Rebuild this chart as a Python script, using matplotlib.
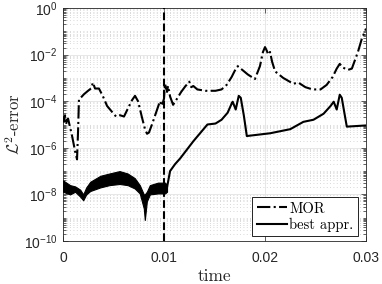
import matplotlib

matplotlib.use("Agg")
import matplotlib.pyplot as plt
import numpy as np
from matplotlib.ticker import LogLocator, FixedLocator, NullFormatter

plt.rcParams["font.family"] = ["Liberation Sans", "DejaVu Sans"]
plt.rcParams["mathtext.fontset"] = "custom"
plt.rcParams["mathtext.rm"] = "Liberation Sans"
plt.rcParams["mathtext.it"] = "Liberation Sans:italic"
plt.rcParams["mathtext.bf"] = "Liberation Sans:bold"

# MOR error (dash-dot)
mor_t = [0.0, 0.0001, 0.0002, 0.0003, 0.0004, 0.0005, 0.0009, 0.0012, 0.00139,
         0.00149, 0.00158, 0.00168, 0.00208, 0.00248, 0.00277, 0.00297, 0.00317,
         0.00356, 0.00396, 0.00436, 0.00485, 0.00525, 0.00564, 0.00604, 0.00644,
         0.00683, 0.00713, 0.00743, 0.00782, 0.00812, 0.00832, 0.00851, 0.00881,
         0.00921, 0.0096, 0.0098, 0.0100, 0.0101, 0.0103, 0.0104, 0.0106, 0.0109,
         0.0113, 0.0117, 0.0121, 0.0125, 0.0127, 0.0129, 0.0133, 0.0141, 0.0151,
         0.0157, 0.0162, 0.0167, 0.0170, 0.0173, 0.0176, 0.0183, 0.0190, 0.0195,
         0.0198, 0.0200, 0.0202, 0.0203, 0.0205, 0.0207, 0.0210, 0.0218, 0.0228,
         0.0233, 0.0240, 0.0247, 0.0255, 0.0261, 0.0267, 0.0271, 0.0274, 0.0277,
         0.0282, 0.0286, 0.0292, 0.0296, 0.0300]
mor_err = [2.2e-5, 1.3e-5, 2.5e-5, 1.0e-5, 1.6e-5, 1.8e-5, 3.2e-6, 7.0e-7, 3.2e-7,
           5.0e-6, 1.2e-4, 1.3e-4, 2.0e-4, 2.8e-4, 3.5e-4, 6.3e-4, 3.5e-4,
           3.5e-4, 1.6e-4, 6.3e-5, 3.5e-5, 2.2e-5, 2.5e-5, 2.2e-5, 5.0e-5,
           1.1e-4, 1.7e-4, 1.0e-4, 2.0e-5, 6.3e-6, 4.0e-6, 4.5e-6, 1.0e-5,
           3.2e-5, 1.0e-4, 6.3e-5, 1.3e-4, 5.6e-4, 2.5e-4, 4.5e-4, 1.6e-4, 7.0e-5,
           1.3e-4, 2.5e-4, 4.3e-4, 6.9e-4, 4.0e-4, 4.5e-4, 3.2e-4, 2.8e-4, 2.8e-4,
           3.2e-4, 5.0e-4, 1.1e-3, 2.0e-3, 3.2e-3, 2.5e-3, 1.4e-3, 8.9e-4, 3.2e-3,
           1.3e-2, 2.1e-2, 1.4e-2, 1.0e-2, 1.3e-2, 5.0e-3, 1.9e-3, 1.0e-3, 5.6e-4,
           6.3e-4, 4.0e-4, 3.2e-4, 3.2e-4, 5.0e-4, 1.1e-3, 2.5e-3, 4.0e-3, 2.8e-3,
           2.2e-3, 2.5e-3, 1.3e-2, 5.0e-2, 1.3e-1]

# best approximation: noisy band before t=0.0104 (upper / lower envelope)
band_t = [0.0, 0.0007, 0.0012, 0.0017, 0.0020, 0.0023, 0.0027, 0.0037, 0.0046,
          0.0056, 0.0064, 0.0071, 0.0076, 0.0080, 0.0081, 0.0083, 0.0086,
          0.0094, 0.0101, 0.0103]
band_hi = [4.0e-8, 2.5e-8, 2.2e-8, 1.6e-8, 1.0e-8, 2.0e-8, 3.5e-8, 6.3e-8, 7.9e-8,
           1.0e-7, 7.9e-8, 5.0e-8, 2.5e-8, 1.0e-8, 1.0e-8, 1.3e-8, 2.5e-8,
           3.2e-8, 3.2e-8, 2.5e-8]
band_lo = [1.3e-8, 1.0e-8, 1.3e-8, 8.0e-9, 5.6e-9, 1.0e-8, 1.4e-8, 2.0e-8, 2.5e-8,
           2.8e-8, 2.5e-8, 1.8e-8, 1.1e-8, 2.5e-9, 8.0e-10, 5.0e-9, 1.0e-8,
           1.1e-8, 1.1e-8, 1.3e-8]

# best approximation after t=0.0104
best_t = [0.0103, 0.0106, 0.0111, 0.0116, 0.0129, 0.0143, 0.0151, 0.0157, 0.0163,
          0.0167, 0.0168, 0.0171, 0.0174, 0.0176, 0.0179, 0.0182, 0.0205, 0.0225,
          0.0238, 0.0248, 0.0258, 0.0265, 0.0268, 0.0271, 0.0274, 0.0276, 0.0279,
          0.0281, 0.0300]
best_err = [2.0e-8, 1.0e-7, 2.0e-7, 3.5e-7, 1.9e-6, 1.0e-5, 1.1e-5, 1.6e-5, 3.2e-5,
            7.9e-5, 9.5e-5, 4.4e-5, 1.7e-4, 1.4e-4, 2.5e-5, 3.2e-6, 4.2e-6, 6.3e-6,
            1.3e-5, 1.6e-5, 2.9e-5, 6.3e-5, 9.5e-5, 4.4e-5, 1.9e-4, 1.4e-4, 2.5e-5,
            8.1e-6, 9.1e-6]

split_t = 0.01
x_ticks = [0, 0.01, 0.02, 0.03]
x_tick_labels = ["0", "0.01", "0.02", "0.03"]
y_ticks = [1e-10, 1e-8, 1e-6, 1e-4, 1e-2, 1e0]

fig = plt.figure(figsize=(3.82, 2.84), dpi=100)
ax = fig.add_axes([63 / 382, 1 - 241 / 284, 303 / 382, 233 / 284])

ax.set_yscale("log")
ax.set_xlim(0, 0.03)
ax.set_ylim(1e-10, 1e0)

# grid, MATLAB-like
ax.set_yticks(y_ticks)
ax.yaxis.set_minor_locator(LogLocator(base=10, subs=np.arange(1, 10), numticks=20))
ax.yaxis.set_minor_formatter(NullFormatter())
ax.grid(True, which="major", color="#e3e3e3", lw=0.6, zorder=0)
ax.grid(True, which="minor", axis="y", color="#cccccc", lw=0.6,
        linestyle=(0, (1, 3)), zorder=0)
ax.set_axisbelow(True)

ax.xaxis.set_major_locator(FixedLocator(x_ticks))
ax.set_xticklabels(x_tick_labels)

ax.tick_params(which="both", direction="in", top=True, right=True,
               labelsize=10, colors="#262626", width=0.5)
ax.tick_params(which="major", length=3.5)
ax.tick_params(axis="x", which="major", pad=7)
ax.tick_params(axis="y", which="major", pad=4)
ax.tick_params(which="minor", length=2)
for s in ax.spines.values():
    s.set_linewidth(0.6)
    s.set_color("#262626")

ax.plot(mor_t, mor_err, color="k", lw=1.5, linestyle="-.", label="MOR", zorder=3)
ax.fill_between(band_t, band_lo, band_hi, color="k", lw=0.8, edgecolor="k", zorder=3)
ax.plot(best_t, best_err, color="k", lw=1.5, label="best appr.", zorder=3)
ax.axvline(split_t, color="k", lw=1.5, linestyle="--", zorder=4)

cm_font = ["cmr10"]
ax.set_xlabel("time", family=cm_font, fontsize=12.5, color="#262626", labelpad=3)
ylab = ax.set_ylabel(r"$\mathcal{L}^2$-error", family=cm_font, fontsize=12,
                     color="#262626")
ylab.set_math_fontfamily("cm")
ax.yaxis.set_label_coords(-0.133, 0.5)

leg = ax.legend(loc="lower right", bbox_to_anchor=(0.974, 0.02), borderaxespad=0,
                fancybox=False, framealpha=1, edgecolor="k", handlelength=2.1,
                handletextpad=0.15, borderpad=0.3, labelspacing=0.15,
                prop={"family": cm_font, "size": 10.5})
leg.get_frame().set_linewidth(0.6)

fig.savefig("out.png", dpi=100)
